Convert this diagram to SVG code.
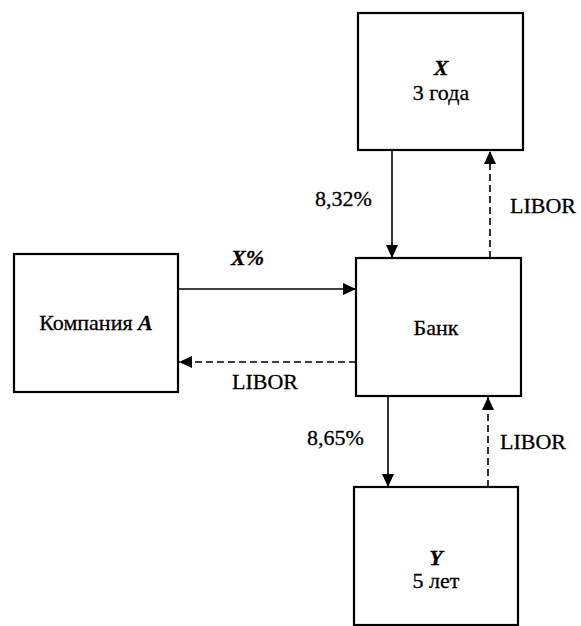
<svg xmlns="http://www.w3.org/2000/svg" width="581" height="626" viewBox="0 0 581 626">
<style>
.box{fill:#fff;stroke:#000;stroke-width:2.2}
.t{font-family:'Liberation Serif','DejaVu Serif',serif;font-size:22px;fill:#000;stroke:#000;stroke-width:0.3}
.i{font-style:italic;font-weight:bold}
.c{stroke:#000;stroke-width:1.6;fill:none}
.d{stroke-dasharray:7 4}
</style>
<defs>
<marker id="ah" markerUnits="userSpaceOnUse" markerWidth="14" markerHeight="12" refX="13" refY="6" orient="auto">
<path d="M0,0 L13,6 L0,12 Z" fill="#000"/>
</marker>
</defs>
<rect width="581" height="626" fill="#fff"/>
<g id="nodeX">
<rect class="box" x="358" y="13" width="165" height="137"/>
<text class="t i" x="441" y="75" text-anchor="middle">X</text>
<text class="t" x="441" y="100" text-anchor="middle">3 года</text>
</g>
<g id="nodeA">
<rect class="box" x="14" y="254" width="164" height="138"/>
<text class="t" x="96" y="330" text-anchor="middle">Компания <tspan class="i">A</tspan></text>
</g>
<g id="nodeBank">
<rect class="box" x="356" y="258" width="165" height="138"/>
<text class="t" x="436" y="335" text-anchor="middle">Банк</text>
</g>
<g id="nodeY">
<rect class="box" x="354" y="487" width="164" height="138"/>
<text class="t i" x="436" y="565" text-anchor="middle">Y</text>
<text class="t" x="436" y="588" text-anchor="middle">5 лет</text>
</g>
<g id="connectors">
<line class="c" x1="392" y1="150" x2="392" y2="258" marker-end="url(#ah)"/>
<line class="c d" x1="490" y1="258" x2="490" y2="151" marker-end="url(#ah)"/>
<line class="c" x1="178" y1="289" x2="356" y2="289" marker-end="url(#ah)"/>
<line class="c d" x1="356" y1="362" x2="179" y2="362" marker-end="url(#ah)"/>
<line class="c" x1="388" y1="397" x2="388" y2="487" marker-end="url(#ah)"/>
<line class="c d" x1="488" y1="487" x2="488" y2="397" marker-end="url(#ah)"/>
<text class="t" x="315" y="206">8,32%</text>
<text class="t" x="510" y="213">LIBOR</text>
<text class="t i" x="231" y="265">X%</text>
<text class="t" x="232" y="389">LIBOR</text>
<text class="t" x="307" y="445">8,65%</text>
<text class="t" x="500" y="449">LIBOR</text>
</g>
</svg>
